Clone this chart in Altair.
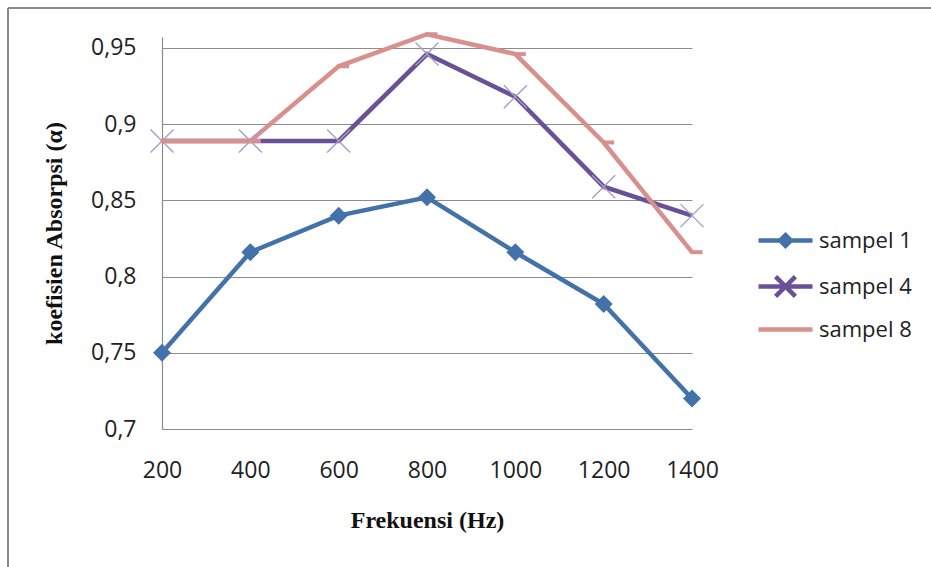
import altair as alt
import pandas as pd

freq = [200, 400, 600, 800, 1000, 1200, 1400]
sampel_1 = [0.750, 0.816, 0.840, 0.852, 0.816, 0.782, 0.720]
sampel_4 = [0.889, 0.889, 0.889, 0.946, 0.918, 0.859, 0.840]
sampel_8 = [0.889, 0.889, 0.938, 0.959, 0.946, 0.888, 0.816]
series_names = ["sampel 1", "sampel 4", "sampel 8"]
series_colors = ["#4372AA", "#6A5096", "#D8908D"]
y_ticks = [0.7, 0.75, 0.8, 0.85, 0.9, 0.95]

rows = []
for name, vals in zip(series_names, [sampel_1, sampel_4, sampel_8]):
    for f, v in zip(freq, vals):
        rows.append({"freq": f, "value": v, "series": name})
df = pd.DataFrame(rows)

FONT = "Open Sans"
SERIF = "Liberation Serif"

x_enc = alt.X("freq:Q", scale=alt.Scale(domain=[200, 1400], nice=False, zero=False),
              axis=alt.Axis(values=freq, format="d", title="Frekuensi (Hz)", grid=False, ticks=False,
                            domain=False, labelPadding=30, labelFontSize=23, labelFont=FONT,
                            labelColor="#222222", titleFont=SERIF, titleFontSize=24,
                            titleFontWeight="bold", titleColor="#111111", titlePadding=26,
                            labelFlush=False))
y_enc = alt.Y("value:Q", scale=alt.Scale(domain=[0.7, 0.9572], nice=False, zero=False),
              axis=alt.Axis(values=y_ticks, title="koefisien Absorpsi (α)", grid=True,
                            gridColor="#8C8C8C", gridWidth=1.2, ticks=False, domain=True,
                            domainColor="#8C8C8C", domainWidth=1.2,
                            labelExpr="replace(format(datum.value, '.2~f'), '.', ',')",
                            labelPadding=26, labelFontSize=23, labelFont=FONT,
                            labelColor="#222222", titleFont=SERIF, titleFontSize=24,
                            titleFontWeight="bold", titleColor="#111111", titlePadding=24))

base = alt.Chart(df)

def line_layer(name, color):
    return base.transform_filter(alt.datum.series == name).mark_line(
        color=color, strokeWidth=4.5, clip=False).encode(x=x_enc, y=y_enc)

lines = [line_layer(n, c) for n, c in zip(series_names, series_colors)]

diamond = base.transform_filter(alt.datum.series == "sampel 1").mark_point(
    shape="diamond", size=324, filled=True, color="#4372AA", opacity=1, clip=False
).encode(x="freq:Q", y="value:Q")

xcross = base.transform_filter(alt.datum.series == "sampel 4").mark_point(
    shape="M-1,-1L1,1M-1,1L1,-1", size=529, filled=False, stroke="#A89CC8",
    strokeWidth=1.4, opacity=1, clip=False
).encode(x="freq:Q", y="value:Q")

dash = base.transform_filter(alt.datum.series == "sampel 8").mark_point(
    shape="M-0.15,-0.2H1.05V0.2H-0.15Z", size=400, filled=True, color="#D8908D",
    opacity=1, clip=False
).encode(x="freq:Q", y="value:Q")

legend_shapes = [
    "M-3,0H3M0,-0.6L0.6,0L0,0.6L-0.6,0Z",
    "M-3,0H3M-1.1,-1.1L1.1,1.1M-1.1,1.1L1.1,-1.1",
    "M-3,0H3",
]
legend = alt.Legend(title=None, orient="none", legendX=612, legendY=192, padding=0,
                    symbolSize=324, symbolStrokeWidth=4.5, symbolOpacity=1,
                    labelOffset=22, rowPadding=12, labelFontSize=22, labelFont=FONT,
                    labelColor="#222222", symbolOffset=0)
legend_layer = base.mark_point(filled=True, opacity=0, clip=False).encode(
    x="freq:Q", y="value:Q",
    fill=alt.Fill("series:N", scale=alt.Scale(domain=series_names, range=series_colors), legend=legend),
    stroke=alt.Stroke("series:N", scale=alt.Scale(domain=series_names, range=series_colors), legend=legend),
    shape=alt.Shape("series:N", scale=alt.Scale(domain=series_names, range=legend_shapes), legend=legend),
)

frame_v = base.mark_rule(color="#8A8A8A", strokeWidth=2).encode(
    x=alt.value(-154), y=alt.value(-29), y2=alt.value(540))
frame_h = base.mark_rule(color="#8A8A8A", strokeWidth=2).encode(
    x=alt.value(-154), x2=alt.value(780), y=alt.value(-29))

chart = alt.layer(frame_v, frame_h, *lines, diamond, xcross, dash, legend_layer).properties(
    width=530, height=392,
    autosize=alt.AutoSizeParams(type="none"),
    padding={"left": 162, "top": 37, "right": 239, "bottom": 138},
    background="white",
).configure_view(stroke=None)

chart.save("out.html", embed_options={"renderer": "svg", "actions": False})
